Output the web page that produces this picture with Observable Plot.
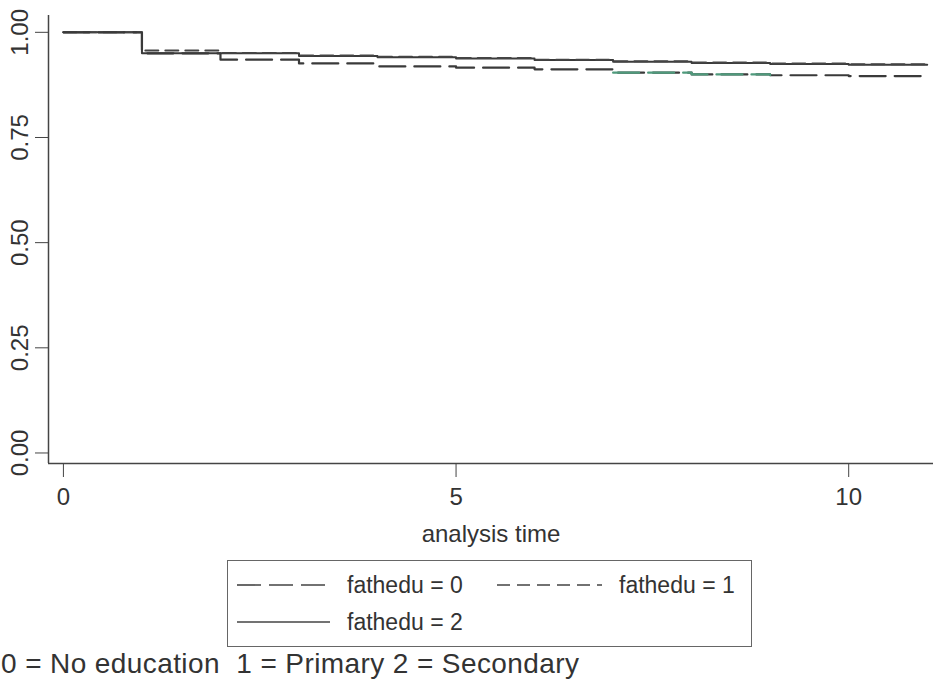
<!DOCTYPE html>
<html>
<head>
<meta charset="utf-8">
<script src="https://cdn.jsdelivr.net/npm/d3@7"></script>
<script src="https://cdn.jsdelivr.net/npm/@observablehq/plot@0.6"></script>
<style>
  html, body { margin: 0; padding: 0; background: #fff; }
  body { width: 933px; height: 693px; position: relative; overflow: hidden; font-family: "Liberation Sans", Arial, sans-serif; color: #333; }
  #chart { position: absolute; left: 0; top: 0; }
  #legend { position: absolute; left: 227px; top: 560px; width: 525px; height: 87px; border: 1.5px solid #666; box-sizing: border-box; }
  .item { position: absolute; display: flex; align-items: center; font-size: 23px; color: #333; white-space: nowrap; }
  .item svg { margin-right: 17px; flex: none; }
  #caption { position: absolute; left: 1px; top: 648px; font-size: 28px; letter-spacing: 0.4px; color: #333; white-space: pre; }
</style>
</head>
<body>
<div id="chart"></div>
<div id="legend"></div>
<div id="caption"></div>
<script>
// ---- data ----
const times = [0, 1, 2, 3, 4, 5, 6, 7, 8, 9, 10, 11];
const surv0 = [1.000, 0.950, 0.935, 0.926, 0.919, 0.916, 0.912, 0.904, 0.900, 0.898, 0.896, 0.896];
const surv1 = [1.000, 0.957, 0.951, 0.945, 0.942, 0.939, 0.935, 0.931, 0.928, 0.926, 0.924, 0.924];
const surv2 = [1.000, 0.950, 0.950, 0.944, 0.941, 0.938, 0.934, 0.930, 0.927, 0.925, 0.923, 0.923];
const seriesLabels = ["fathedu = 0", "fathedu = 1", "fathedu = 2"];
const yTicks = [0, 0.25, 0.5, 0.75, 1];
const xTicks = [0, 5, 10];
const xLabel = "analysis time";
const captionText = "0 = No education  1 = Primary 2 = Secondary";
const xDomain = [-0.19, 11.08];
const yDomain = [-0.025, 1.04];

const toRows = (arr) => times.map((t, i) => ({t, s: arr[i]}));
const d0 = toRows(surv0), d1 = toRows(surv1), d2 = toRows(surv2);
const d0green = d0.filter(d => d.t >= 7 && d.t <= 9);

const ink = "#3a3a3a";
const dashes = ["26,9", "13,7", null];

const chart = Plot.plot({
  width: 933,
  height: 560,
  marginTop: 15,
  marginLeft: 48,
  marginRight: 0,
  marginBottom: 97,
  style: {fontFamily: "'Liberation Sans', Arial, sans-serif", color: "#333", background: "#fff"},
  x: {domain: xDomain},
  y: {domain: yDomain},
  marks: [
    Plot.ruleX([xDomain[0]], {stroke: "#444", strokeWidth: 1.5}),
    Plot.ruleY([yDomain[0]], {stroke: "#444", strokeWidth: 1.5}),
    Plot.axisY({ticks: yTicks, tickFormat: d3.format(".2f"), tickSize: 13, tickRotate: -90, tickPadding: 8, fontSize: 24, label: null, stroke: "#444"}),
    Plot.axisX({ticks: xTicks, tickSize: 14, tickPadding: 10, fontSize: 24, label: null, stroke: "#444"}),
    Plot.axisX({ticks: [], label: xLabel, labelAnchor: "center", labelArrow: "none", labelOffset: 78, fontSize: 24}),
    Plot.line(d2, {x: "t", y: "s", curve: "step-after", stroke: ink, strokeWidth: 2}),
    Plot.line(d1, {x: "t", y: "s", curve: "step-after", stroke: "#444", strokeWidth: 2, strokeDasharray: dashes[1]}),
    Plot.line(d0, {x: "t", y: "s", curve: "step-after", stroke: ink, strokeWidth: 2.2, strokeDasharray: dashes[0]}),
    Plot.line(d0green, {x: "t", y: "s", curve: "step-after", stroke: "#4f9a7c", strokeWidth: 2.2, strokeDasharray: dashes[0]})
  ]
});
document.getElementById("chart").appendChild(chart);

// ---- legend ----
const legend = document.getElementById("legend");
const legendPos = [
  {left: 9, top: 9, w: 93},
  {left: 269, top: 9, w: 105},
  {left: 9, top: 46, w: 93}
];
seriesLabels.forEach((lab, i) => {
  const it = document.createElement("div");
  it.className = "item";
  it.style.left = legendPos[i].left + "px";
  it.style.top = legendPos[i].top + "px";
  const w = legendPos[i].w;
  const dash = i === 0 ? "24,8" : i === 1 ? "13,7" : "none";
  it.innerHTML = `<svg width="${w}" height="30"><line x1="0" x2="${w}" y1="15" y2="15" stroke="#444" stroke-width="1.6" stroke-dasharray="${dash}"/></svg><span>${lab}</span>`;
  legend.appendChild(it);
});
document.getElementById("caption").textContent = captionText;
</script>
</body>
</html>
